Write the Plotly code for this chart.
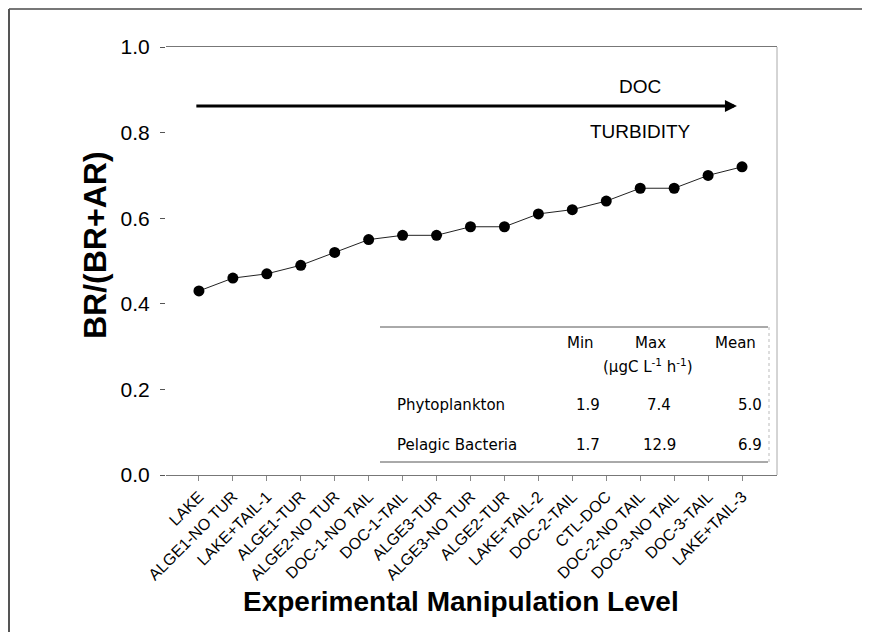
import plotly.graph_objects as go

categories = ["LAKE", "ALGE1-NO TUR", "LAKE+TAIL-1", "ALGE1-TUR", "ALGE2-NO TUR",
              "DOC-1-NO TAIL", "DOC-1-TAIL", "ALGE3-TUR", "ALGE3-NO TUR", "ALGE2-TUR",
              "LAKE+TAIL-2", "DOC-2-TAIL", "CTL-DOC", "DOC-2-NO TAIL", "DOC-3-NO TAIL",
              "DOC-3-TAIL", "LAKE+TAIL-3"]
ratio = [0.43, 0.46, 0.47, 0.49, 0.52, 0.55, 0.56, 0.56, 0.58, 0.58,
         0.61, 0.62, 0.64, 0.67, 0.67, 0.70, 0.72]
y_ticks = [0.0, 0.2, 0.4, 0.6, 0.8, 1.0]
y_tick_labels = ["0.0", "0.2", "0.4", "0.6", "0.8", "1.0"]

table_header = ["Min", "Max", "Mean"]
table_unit = "(µgC L<sup>-1</sup> h<sup>-1</sup>)"
table_rows = ["Phytoplankton", "Pelagic Bacteria"]
table_min = ["1.9", "1.7"]
table_max = ["7.4", "12.9"]
table_mean = ["5.0", "6.9"]

# page offset caused by the default body margin
OFF = 8
W, H = 862, 624
# plot-area edges in page pixels
L, R, T, B = 166, 777, 47, 475

def px(x):
    return (x - L) / (R - L)

def py(y):
    return (B - y) / (B - T)

FONT = "Liberation Sans, Arial, sans-serif"
TFONT = "DejaVu Sans, Liberation Sans, Arial, sans-serif"

xidx = list(range(len(categories)))
fig = go.Figure()
fig.add_trace(go.Scatter(
    x=xidx, y=ratio, mode="lines+markers",
    line=dict(color="#222", width=1),
    marker=dict(color="black", size=11),
    showlegend=False, cliponaxis=False,
))

annotations = []
annotations.append(dict(x=15.85, y=0.862, ax=-0.12, ay=0.862, xref="x", yref="y",
                        axref="x", ayref="y", showarrow=True, arrowhead=2,
                        arrowsize=0.8, arrowwidth=3, arrowcolor="black", text=""))
annotations.append(dict(x=13.0, y=0.907, xref="x", yref="y", text="DOC", showarrow=False,
                        xanchor="center", yanchor="middle",
                        font=dict(family=FONT, size=19, color="black")))
annotations.append(dict(x=13.0, y=0.803, xref="x", yref="y", text="TURBIDITY", showarrow=False,
                        xanchor="center", yanchor="middle",
                        font=dict(family=FONT, size=19, color="black")))

tf = dict(family=TFONT, size=15, color="black")
def txt(x, y, text, anchor="center", font=tf, **kw):
    d = dict(x=px(x), y=py(y), xref="paper", yref="paper", text=text, showarrow=False,
             xanchor=anchor, yanchor="middle", font=font)
    d.update(kw)
    return d

hdr_x = [580, 650, 735]
for h, xx in zip(table_header, hdr_x):
    annotations.append(txt(xx, 343, h))
annotations.append(txt(648, 366, table_unit))
row_y = [405, 445]
for i, name in enumerate(table_rows):
    annotations.append(txt(395, row_y[i], name, anchor="left"))
    annotations.append(txt(588, row_y[i], table_min[i]))
    annotations.append(txt(659, row_y[i], table_max[i]))
    annotations.append(txt(764, row_y[i], table_mean[i], anchor="right"))

annotations.append(txt(95, 245, "<b>BR/(BR+AR)</b>", textangle=-90,
                       font=dict(family=FONT, size=32, color="black")))
annotations.append(txt(461, 601, "<b>Experimental Manipulation Level</b>",
                       font=dict(family=FONT, size=28, color="black")))

shapes = [
    dict(type="line", xref="paper", yref="paper", x0=px(380), x1=px(768), y0=py(327), y1=py(327),
         line=dict(color="#555", width=1)),
    dict(type="line", xref="paper", yref="paper", x0=px(380), x1=px(768), y0=py(462), y1=py(462),
         line=dict(color="#555", width=1)),
    dict(type="line", xref="paper", yref="paper", x0=px(769), x1=px(769), y0=py(327), y1=py(462),
         line=dict(color="#bbb", width=1, dash="dot")),
    dict(type="line", xref="paper", yref="paper", x0=1, x1=1, y0=0, y1=1,
         line=dict(color="#aaa", width=1)),
    # outer frame (top & left)
    dict(type="line", xref="paper", yref="paper", x0=px(9), x1=px(878), y0=py(9), y1=py(9),
         line=dict(color="#777", width=2)),
    dict(type="line", xref="paper", yref="paper", x0=px(9), x1=px(9), y0=py(9), y1=py(640),
         line=dict(color="#555", width=2)),
]

fig.update_layout(
    width=W, height=H,
    margin=dict(l=L - OFF, r=W - (R - OFF), t=T - OFF, b=H - (B - OFF)),
    paper_bgcolor="white", plot_bgcolor="white",
    font=dict(family=FONT, color="black"),
    xaxis=dict(range=[-0.97, 17.03], tickmode="array", tickvals=xidx, ticktext=categories,
               tickangle=-45, tickfont=dict(family=FONT, size=16, color="black"),
               showgrid=False, zeroline=False, showline=True, mirror=True,
               linecolor="#777", linewidth=1, ticks="outside", ticklen=5, tickcolor="#888"),
    yaxis=dict(range=[0, 1], tickmode="array", tickvals=y_ticks, ticktext=y_tick_labels,
               tickfont=dict(family=FONT, size=21, color="black"),
               showgrid=False, zeroline=False, showline=False, ticklabelstandoff=6,
               ticks="outside", ticklen=5, tickcolor="#555"),
    annotations=annotations, shapes=shapes,
)

fig.write_html("out.html")
